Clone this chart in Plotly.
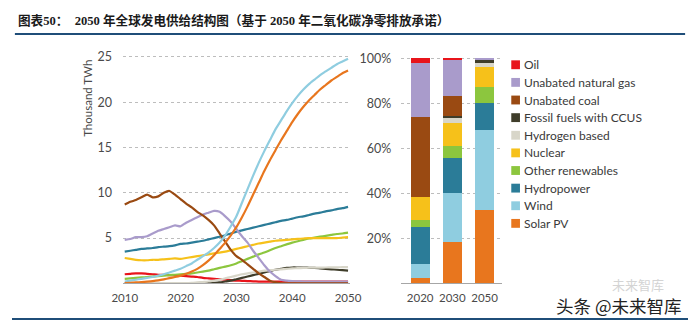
import plotly.graph_objects as go

W, H = 700, 324

# ---------------- data ----------------
years = list(range(2010, 2051))

oil = [1.0, 1.05, 1.1, 1.1, 1.05, 1.0, 0.95, 0.95, 0.9, 0.9,
       0.85, 0.8, 0.75, 0.7, 0.6, 0.55, 0.5, 0.45, 0.4, 0.35,
       0.3, 0.28, 0.25, 0.22, 0.2, 0.2, 0.2, 0.2, 0.2, 0.2,
       0.2, 0.2, 0.2, 0.2, 0.2, 0.2, 0.2, 0.2, 0.2, 0.2, 0.2]
gas = [4.8, 4.9, 5.1, 5.1, 5.2, 5.5, 5.8, 6.0, 6.2, 6.4,
       6.3, 6.7, 7.0, 7.3, 7.6, 7.8, 8.0, 7.9, 7.4, 6.8,
       6.0, 5.2, 4.5, 3.6, 2.8, 2.0, 1.3, 0.8, 0.4, 0.3,
       0.25, 0.22, 0.2, 0.2, 0.2, 0.2, 0.2, 0.2, 0.2, 0.2, 0.2]
coal = [8.7, 9.0, 9.2, 9.5, 9.8, 9.5, 9.6, 10.0, 10.2, 9.8,
        9.3, 8.8, 8.4, 7.9, 7.5, 7.0, 6.4, 5.5, 4.6, 3.7,
        3.0, 2.6, 2.1, 1.6, 1.1, 0.7, 0.3, 0.1, 0.0, 0.0,
        0.0, 0.0, 0.0, 0.0, 0.0, 0.0, 0.0, 0.0, 0.0, 0.0, 0.0]
ccus = [0.0, 0.0, 0.0, 0.0, 0.0, 0.0, 0.0, 0.0, 0.0, 0.0,
        0.0, 0.0, 0.0, 0.0, 0.0, 0.02, 0.05, 0.1, 0.2, 0.3,
        0.45, 0.6, 0.75, 0.9, 1.05, 1.2, 1.35, 1.5, 1.6, 1.7,
        1.75, 1.75, 1.75, 1.72, 1.7, 1.65, 1.6, 1.55, 1.5, 1.45, 1.4]
hydrogen = [0.02, 0.02, 0.02, 0.02, 0.02, 0.02, 0.02, 0.02, 0.02, 0.02,
            0.02, 0.02, 0.05, 0.1, 0.15, 0.2, 0.3, 0.4, 0.55, 0.7,
            0.85, 1.0, 1.1, 1.2, 1.3, 1.4, 1.45, 1.5, 1.55, 1.6,
            1.65, 1.68, 1.7, 1.72, 1.73, 1.74, 1.75, 1.76, 1.77, 1.78, 1.8]
nuclear = [2.8, 2.7, 2.6, 2.55, 2.55, 2.6, 2.6, 2.65, 2.7, 2.75,
           2.7, 2.8, 2.9, 3.0, 3.1, 3.2, 3.3, 3.4, 3.5, 3.65,
           3.8, 3.95, 4.1, 4.25, 4.4, 4.5, 4.6, 4.7, 4.75, 4.8,
           4.85, 4.9, 4.95, 5.0, 5.0, 5.0, 5.0, 5.0, 5.0, 5.05, 5.1]
other_ren = [0.5, 0.55, 0.6, 0.65, 0.7, 0.75, 0.8, 0.85, 0.9, 0.95,
             1.0, 1.05, 1.1, 1.2, 1.3, 1.4, 1.55, 1.7, 1.85, 2.0,
             2.2, 2.45, 2.7, 2.95, 3.2, 3.4, 3.65, 3.9, 4.1, 4.3,
             4.5, 4.65, 4.8, 4.95, 5.05, 5.15, 5.25, 5.35, 5.45, 5.5, 5.6]
hydro = [3.5, 3.6, 3.7, 3.8, 3.85, 3.9, 4.0, 4.05, 4.1, 4.2,
         4.35, 4.4, 4.5, 4.6, 4.7, 4.85, 5.0, 5.15, 5.3, 5.5,
         5.7, 5.85, 6.0, 6.15, 6.3, 6.45, 6.6, 6.75, 6.9, 7.0,
         7.15, 7.3, 7.4, 7.55, 7.7, 7.8, 7.95, 8.05, 8.2, 8.3, 8.45]
wind = [0.2, 0.3, 0.4, 0.5, 0.6, 0.7, 0.85, 1.0, 1.2, 1.4,
        1.6, 1.9, 2.2, 2.6, 3.0, 3.4, 3.9, 4.5, 5.3, 6.3,
        7.4, 8.9, 10.4, 11.9, 13.3, 14.6, 15.8, 17.0, 18.0, 19.0,
        19.9, 20.7, 21.4, 22.0, 22.5, 23.0, 23.4, 23.8, 24.2, 24.5, 24.8]
solar = [0.03, 0.06, 0.1, 0.14, 0.19, 0.25, 0.33, 0.44, 0.57, 0.7,
         0.85, 1.05, 1.3, 1.6, 2.0, 2.5, 3.1, 3.8, 4.5, 5.3,
         6.2, 7.3, 8.5, 9.8, 11.1, 12.4, 13.6, 14.7, 15.8, 16.8,
         17.8, 18.7, 19.5, 20.2, 20.8, 21.4, 21.9, 22.4, 22.8, 23.2, 23.5]

bar_years = ["2020", "2030", "2050"]
# shares (%) for each stacked bar, bottom to top
share_solar = [2.2, 18.2, 32.7]
share_wind = [6.4, 21.8, 35.2]
share_hydro = [16.2, 15.8, 12.0]
share_other = [3.2, 5.4, 7.3]
share_nuclear = [10.5, 10.2, 8.7]
share_hydrogen = [0.0, 2.3, 2.0]
share_ccus = [0.0, 0.6, 1.6]
share_coal = [35.5, 8.7, 0.0]
share_gas = [23.7, 16.5, 0.5]
share_oil = [2.3, 0.5, 0.0]

names = ["Oil", "Unabated natural gas", "Unabated coal", "Fossil fuels with CCUS",
         "Hydrogen based", "Nuclear", "Other renewables", "Hydropower", "Wind", "Solar PV"]
colors = ["#E8141B", "#A99BCB", "#9A4A12", "#3F3D2A", "#D8D6C9",
          "#F6C11A", "#8CC63E", "#2B7C98", "#8FCDE0", "#E8761E"]
line_series = [oil, gas, coal, ccus, hydrogen, nuclear, other_ren, hydro, wind, solar]
bar_series = [share_oil, share_gas, share_coal, share_ccus, share_hydrogen,
              share_nuclear, share_other, share_hydro, share_wind, share_solar]

title_text = "图表50：  2050 年全球发电供给结构图（基于 2050 年二氧化碳净零排放承诺）"
y_title = "Thousand TWh"
watermark = "头条 @未来智库"
watermark2 = "未来智库"


def px(x):
    return x / W


def py(y):
    return (H - y) / H


FONT = "Lato, Open Sans, sans-serif"
TXT = "#4a4a4a"

fig = go.Figure()

# line chart (draw in a chosen z-order)
order = [0, 3, 4, 6, 5, 7, 1, 2, 8, 9]
for i in order:
    fig.add_trace(go.Scatter(x=years, y=line_series[i], mode="lines", name=names[i],
                             line=dict(color=colors[i], width=2.2, shape="spline", smoothing=0.6),
                             showlegend=False, xaxis="x", yaxis="y", hoverinfo="skip"))

# stacked bars, bottom first
for i in reversed(range(len(names))):
    fig.add_trace(go.Bar(x=bar_years, y=bar_series[i], name=names[i],
                         marker=dict(color=colors[i], line=dict(width=0)),
                         showlegend=False, xaxis="x2", yaxis="y2", width=0.6))

ydom = [py(282.7), py(50)]

fig.update_layout(
    width=W, height=H,
    margin=dict(l=0, r=0, t=0, b=0),
    paper_bgcolor="white", plot_bgcolor="white",
    barmode="stack",
    font=dict(family=FONT, color=TXT),
    xaxis=dict(domain=[px(115), px(350)], range=[2009.7, 2050.35],
               tickvals=[2010, 2020, 2030, 2040, 2050], showgrid=False, zeroline=False,
               showline=True, linecolor="#A6A6A6", linewidth=1, ticks="",
               tickfont=dict(size=11.5, color=TXT), ticklabelstandoff=4),
    yaxis=dict(domain=ydom, range=[0, 25.3], tickvals=[5, 10, 15, 20, 25],
               showgrid=True, gridcolor="#BDBDBD", griddash="dot", gridwidth=1,
               zeroline=False, showline=False, ticks="",
               tickfont=dict(size=12.5, color=TXT), ticklabelstandoff=10),
    xaxis2=dict(domain=[px(403), px(507)], type="category", range=[-0.59, 2.53],
                showgrid=False, zeroline=False, showline=True, linecolor="#A6A6A6",
                ticks="", tickfont=dict(size=11.5, color=TXT), ticklabelstandoff=4,
                anchor="y2"),
    yaxis2=dict(domain=ydom, range=[0, 101.75], tickvals=[20, 40, 60, 80, 100],
                ticktext=["20%", "40%", "60%", "80%", "100%"],
                showgrid=True, gridcolor="#BDBDBD", griddash="dot", gridwidth=1,
                zeroline=False, showline=False, ticks="", anchor="x2",
                tickfont=dict(size=12.5, color=TXT), ticklabelstandoff=9),
    showlegend=False,
)

annotations = [
    dict(text="<b>" + title_text + "</b>", x=px(4), y=py(16), xref="paper", yref="paper",
         xanchor="left", yanchor="middle", showarrow=False,
         font=dict(family="Liberation Serif, Noto Sans CJK SC", size=12.6, color="#1a1a1a")),
    dict(text=y_title, x=px(78), y=py(95), xref="paper", yref="paper", textangle=-90,
         xanchor="center", yanchor="middle", showarrow=False,
         font=dict(family=FONT, size=11.5, color=TXT)),
    dict(text=watermark2, x=px(648), y=py(284), xref="paper", yref="paper",
         xanchor="center", yanchor="middle", showarrow=False,
         font=dict(family="Noto Sans CJK SC", size=13, color="#d4d4d4")),
    dict(text=watermark, x=px(628), y=py(305), xref="paper", yref="paper",
         xanchor="center", yanchor="middle", showarrow=False,
         font=dict(family="Noto Sans CJK SC", size=17.5, color="#222222")),
]

shapes = [
    dict(type="line", xref="paper", yref="paper", x0=px(3), x1=px(697), y0=py(29.5), y1=py(29.5),
         line=dict(color="#1F4E79", width=2)),
    dict(type="line", xref="paper", yref="paper", x0=px(0), x1=px(700), y0=py(319), y1=py(319),
         line=dict(color="#1F4E79", width=2)),
]

# custom legend
for k, nm in enumerate(names):
    yc = 60.7 + k * 17.9
    shapes.append(dict(type="rect", xref="paper", yref="paper",
                       x0=px(517), x1=px(526), y0=py(yc + 4.5), y1=py(yc - 4.5),
                       fillcolor=colors[k], line=dict(width=0)))
    annotations.append(dict(text=nm, x=px(528.5), y=py(yc), xref="paper", yref="paper",
                            xanchor="left", yanchor="middle", showarrow=False,
                            font=dict(family=FONT, size=12, color="#3a3a3a")))

fig.update_layout(annotations=annotations, shapes=shapes)

fig.write_html("out.html")
